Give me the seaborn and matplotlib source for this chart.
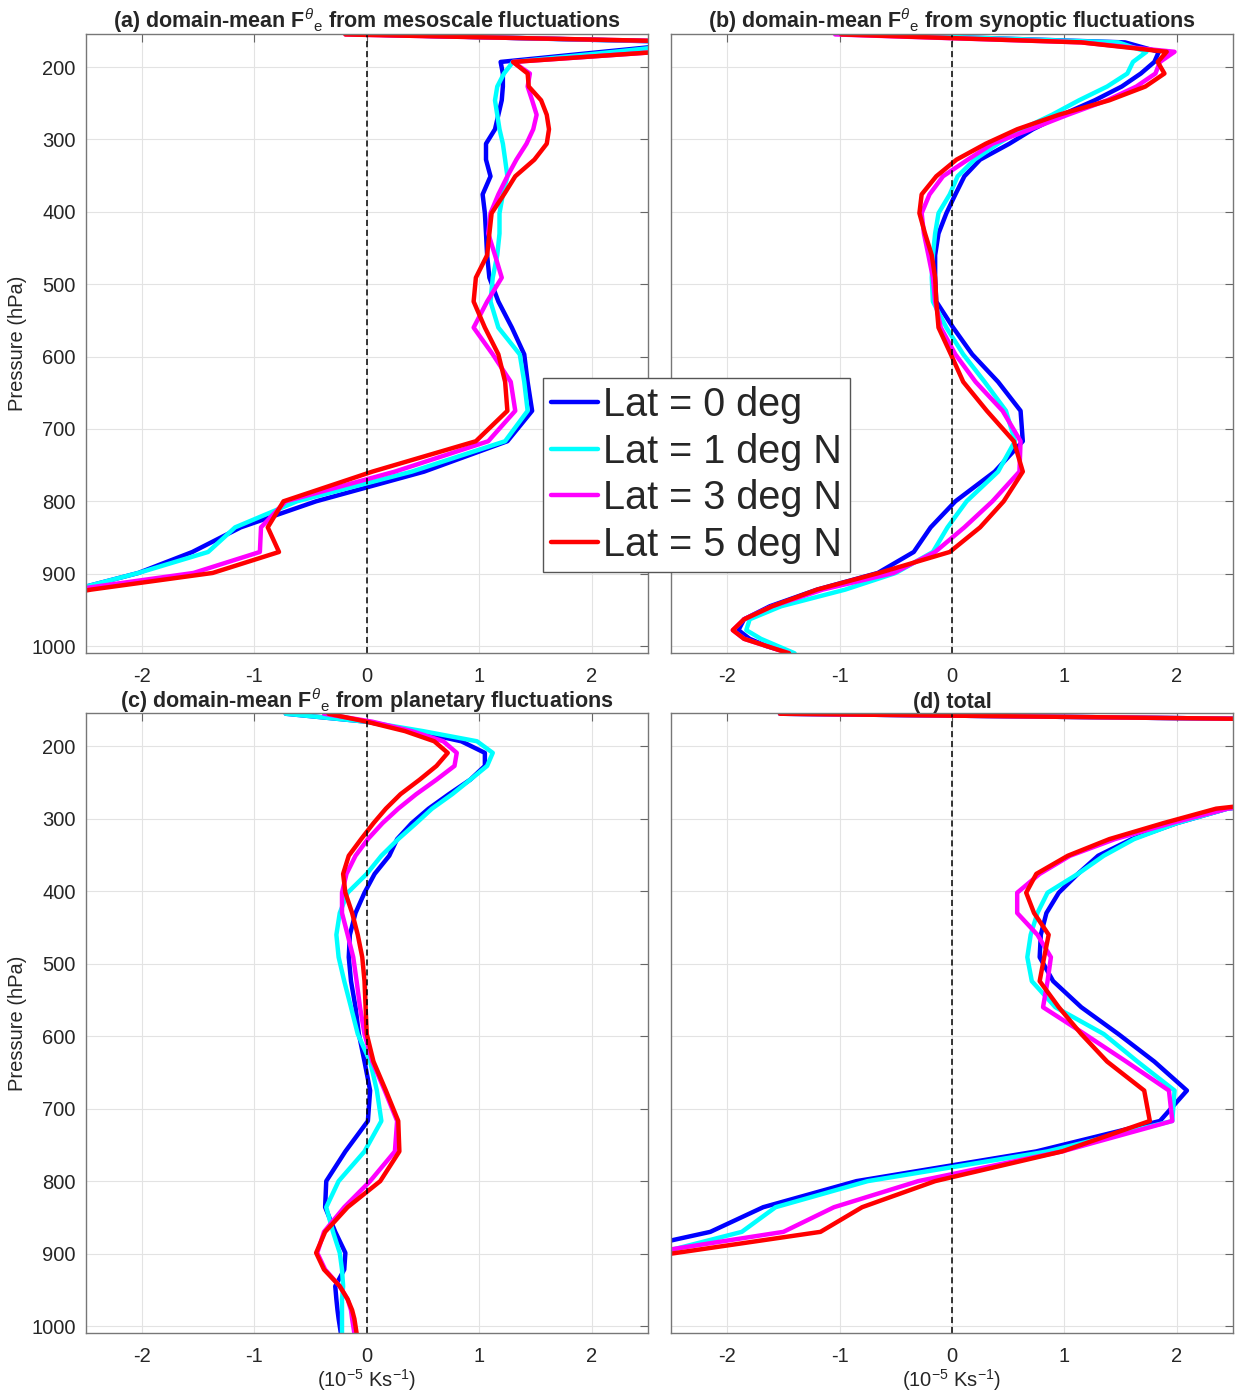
import numpy as np
import pandas as pd
import seaborn as sns
import matplotlib.pyplot as plt

sns.set_style('white')
plt.rcParams['font.family'] = ['Liberation Sans', 'DejaVu Sans']
plt.rcParams['mathtext.fontset'] = 'custom'
plt.rcParams['mathtext.rm'] = 'Liberation Sans'
plt.rcParams['mathtext.it'] = 'Liberation Sans:italic'
plt.rcParams['mathtext.bf'] = 'Liberation Sans:bold'
plt.rcParams['axes.unicode_minus'] = False

# pressure levels (hPa)
pres = [155, 166, 179, 193, 209, 227, 246, 266, 286, 306, 328, 351, 376, 402, 430, 460, 491, 524,
        560, 597, 635, 675, 717, 759, 800, 836, 870, 899, 922, 945, 963, 978, 990, 1000, 1010]
lats = ['Lat = 0 deg', 'Lat = 1 deg N', 'Lat = 3 deg N', 'Lat = 5 deg N']
colors = ['#0000ff', '#00ffff', '#ff00ff', '#ff0000']

# (a) mesoscale, 10^-5 K/s
meso_0 = [0.0, 2.95, 2.1, 1.19, 1.21, 1.21, 1.20, 1.17, 1.14, 1.06, 1.06, 1.10, 1.03, 1.05, 1.06, 1.07, 1.09, 1.17,
          1.29, 1.40, 1.43, 1.47, 1.25, 0.51, -0.45, -1.12, -1.55, -2.03, -2.6, -3.2, -3.6, -3.9, -4.0, -4.0, -4.0]
meso_1 = [0.0, 3.0, 2.2, 1.30, 1.22, 1.16, 1.14, 1.16, 1.18, 1.21, 1.23, 1.25, 1.21, 1.18, 1.18, 1.16, 1.12, 1.10,
          1.17, 1.36, 1.40, 1.43, 1.23, 0.40, -0.62, -1.17, -1.41, -2.03, -2.6, -3.2, -3.6, -3.9, -4.0, -4.0, -4.0]
meso_3 = [-0.19, 3.2, 2.6, 1.30, 1.45, 1.43, 1.47, 1.51, 1.48, 1.42, 1.33, 1.25, 1.17, 1.10, 1.08, 1.14, 1.20, 1.07,
          0.95, 1.12, 1.28, 1.32, 1.08, 0.25, -0.72, -0.94, -0.95, -1.54, -2.6, -3.3, -3.7, -4.0, -4.0, -4.0, -4.0]
meso_5 = [-0.19, 3.2, 2.6, 1.30, 1.43, 1.44, 1.55, 1.60, 1.62, 1.60, 1.49, 1.32, 1.22, 1.11, 1.09, 1.07, 0.97, 0.95,
          1.05, 1.17, 1.23, 1.25, 0.97, 0.05, -0.74, -0.88, -0.78, -1.37, -2.45, -3.3, -3.7, -4.0, -4.0, -4.0, -4.0]

# (b) synoptic
syn_0 = [-0.73, 1.54, 1.84, 1.80, 1.68, 1.51, 1.27, 0.98, 0.72, 0.51, 0.25, 0.11, 0.03, -0.05, -0.12, -0.15, -0.15, -0.14,
         0.01, 0.18, 0.41, 0.61, 0.63, 0.38, 0.03, -0.19, -0.34, -0.66, -1.2, -1.62, -1.85, -1.9, -1.8, -1.65, -1.43]
syn_1 = [-0.69, 1.48, 1.73, 1.61, 1.56, 1.38, 1.13, 0.89, 0.62, 0.41, 0.20, 0.05, -0.02, -0.12, -0.15, -0.17, -0.18, -0.17,
         -0.05, 0.10, 0.29, 0.48, 0.56, 0.41, 0.13, -0.04, -0.17, -0.50, -0.95, -1.52, -1.80, -1.83, -1.70, -1.55, -1.40]
syn_3 = [-1.04, 1.15, 1.98, 1.85, 1.81, 1.64, 1.38, 1.03, 0.70, 0.36, 0.14, -0.08, -0.20, -0.27, -0.25, -0.21, -0.17, -0.15,
         -0.10, 0.03, 0.21, 0.45, 0.61, 0.60, 0.36, 0.11, -0.15, -0.52, -1.15, -1.6, -1.85, -1.95, -1.85, -1.65, -1.45]
syn_5 = [-0.985, 1.15, 1.91, 1.83, 1.89, 1.72, 1.40, 0.95, 0.58, 0.30, 0.04, -0.14, -0.27, -0.29, -0.24, -0.18, -0.15, -0.14,
         -0.12, -0.01, 0.10, 0.31, 0.55, 0.63, 0.46, 0.25, -0.02, -0.65, -1.2, -1.6, -1.85, -1.95, -1.85, -1.65, -1.45]

# (c) planetary
pla_0 = [-0.72, 0.0, 0.43, 0.84, 1.05, 1.05, 0.92, 0.73, 0.55, 0.40, 0.27, 0.20, 0.07, -0.02, -0.10, -0.15, -0.16, -0.14,
         -0.10, -0.07, -0.02, 0.03, 0.01, -0.19, -0.36, -0.37, -0.28, -0.19, -0.20, -0.28, -0.27, -0.26, -0.25, -0.24, -0.23]
pla_1 = [-0.72, 0.0, 0.50, 0.98, 1.12, 1.07, 0.92, 0.76, 0.58, 0.44, 0.28, 0.13, 0.0, -0.17, -0.24, -0.27, -0.25, -0.20,
         -0.14, -0.08, 0.03, 0.09, 0.13, -0.02, -0.25, -0.36, -0.30, -0.24, -0.22, -0.21, -0.22, -0.22, -0.22, -0.22, -0.22]
pla_3 = [-0.38, 0.05, 0.40, 0.68, 0.80, 0.78, 0.62, 0.44, 0.28, 0.14, 0.01, -0.10, -0.18, -0.22, -0.22, -0.17, -0.12, -0.09,
         -0.06, -0.02, 0.05, 0.16, 0.27, 0.25, 0.03, -0.20, -0.38, -0.44, -0.37, -0.24, -0.17, -0.14, -0.13, -0.12, -0.11]
pla_5 = [-0.34, 0.0, 0.34, 0.60, 0.72, 0.62, 0.47, 0.30, 0.17, 0.06, -0.05, -0.16, -0.21, -0.19, -0.13, -0.08, -0.04, -0.02,
         -0.01, 0.0, 0.06, 0.17, 0.28, 0.29, 0.12, -0.17, -0.37, -0.45, -0.38, -0.24, -0.17, -0.13, -0.11, -0.10, -0.09]

# (d) total
tot_0 = [-1.53, 4.9, 5.5, 5.5, 5.2, 4.8, 4.2, 3.5, 2.45, 2.0, 1.60, 1.30, 1.12, 0.95, 0.84, 0.79, 0.78, 0.90,
         1.15, 1.48, 1.80, 2.09, 1.85, 0.75, -0.85, -1.68, -2.15, -3.0, -3.8, -4.2, -4.4, -4.5, -4.5, -4.5, -4.5]
tot_1 = [-1.53, 4.9, 5.5, 5.5, 5.2, 4.8, 4.2, 3.5, 2.45, 2.0, 1.62, 1.35, 1.12, 0.85, 0.76, 0.70, 0.67, 0.71,
         0.92, 1.35, 1.65, 1.98, 1.96, 0.85, -0.75, -1.57, -1.87, -2.6, -3.8, -4.2, -4.4, -4.5, -4.5, -4.5, -4.5]
tot_3 = [-1.53, 4.9, 5.5, 5.5, 5.2, 4.8, 4.2, 3.5, 2.45, 1.95, 1.45, 1.05, 0.78, 0.58, 0.58, 0.76, 0.88, 0.85,
         0.81, 1.18, 1.55, 1.93, 1.96, 0.98, -0.30, -1.05, -1.50, -2.7, -3.8, -4.2, -4.4, -4.5, -4.5, -4.5, -4.5]
tot_5 = [-1.53, 4.9, 5.5, 5.5, 5.2, 4.8, 4.2, 3.5, 2.35, 1.88, 1.40, 1.03, 0.75, 0.66, 0.73, 0.86, 0.82, 0.78,
         0.95, 1.15, 1.38, 1.71, 1.76, 0.98, -0.15, -0.80, -1.17, -2.45, -3.5, -4.2, -4.4, -4.5, -4.5, -4.5, -4.5]

panels = [
    ('(a) domain-mean F$^{\\theta}$$_{\\mathrm{e}}$ from mesoscale fluctuations', [meso_0, meso_1, meso_3, meso_5]),
    ('(b) domain-mean F$^{\\theta}$$_{\\mathrm{e}}$ from synoptic fluctuations', [syn_0, syn_1, syn_3, syn_5]),
    ('(c) domain-mean F$^{\\theta}$$_{\\mathrm{e}}$ from planetary fluctuations', [pla_0, pla_1, pla_3, pla_5]),
    ('(d) total', [tot_0, tot_1, tot_3, tot_5]),
]

W, H = 1239, 1391
fig = plt.figure(figsize=(W / 100, H / 100), dpi=100)
boxes = [(85.5, 34, 648, 653.3), (671, 34, 1233, 653.3),
         (85.5, 713.3, 648, 1333.3), (671, 713.3, 1233, 1333.3)]

axes = []
for i, ((title, series), (x0, y0, x1, y1)) in enumerate(zip(panels, boxes)):
    ax = fig.add_axes([x0 / W, 1 - y1 / H, (x1 - x0) / W, (y1 - y0) / H])
    df = pd.concat([pd.DataFrame({'p': pres, 'flux': s, 'lat': lab}) for s, lab in zip(series, lats)])
    sns.lineplot(data=df, x='flux', y='p', hue='lat', palette=colors, orient='y', sort=False,
                 estimator=None, linewidth=3.2, legend=False, ax=ax)
    ax.axvline(0, color='k', ls=(0, (4, 2.5)), lw=1.1)
    ax.set_xlim(-2.5, 2.5)
    ax.set_ylim(1010, 154.4)
    ax.set_xticks([-2, -1, 0, 1, 2])
    ax.set_yticks([200, 300, 400, 500, 600, 700, 800, 900, 1000])
    ax.grid(True, color='#e3e3e3', lw=0.8)
    ax.set_axisbelow(True)
    ax.tick_params(direction='in', top=True, right=True, length=6, width=0.8, color='#666666',
                   labelsize=14.5, labelcolor='#262626', pad=7)
    ax.tick_params(axis='x', pad=10)
    for sp in ax.spines.values():
        sp.set_color('#777777')
        sp.set_linewidth(1.0)
    ax.set_title(title, fontsize=15.5, fontweight='bold', pad=4)
    ax.set_xlabel('')
    ax.set_ylabel('')
    if i % 2 == 0:
        ax.set_ylabel('Pressure (hPa)', fontsize=14.5, color='#262626', labelpad=3)
    else:
        ax.set_yticklabels([])
    if i >= 2:
        ax.set_xlabel('(10$^{-5}$ Ks$^{-1}$)', fontsize=14.5, color='#262626', labelpad=1)
    axes.append(ax)

handles = axes[0].get_lines()[:4]
fig.legend(handles, lats, loc='upper left', bbox_to_anchor=(543 / W, 1 - 378 / H),
           bbox_transform=fig.transFigure, fontsize=28.5, frameon=True, fancybox=False,
           edgecolor='#555555', framealpha=1, borderpad=0.2, borderaxespad=0,
           handlelength=1.2, handletextpad=0.12, labelspacing=0.22)

fig.savefig('out.png', dpi=100)
